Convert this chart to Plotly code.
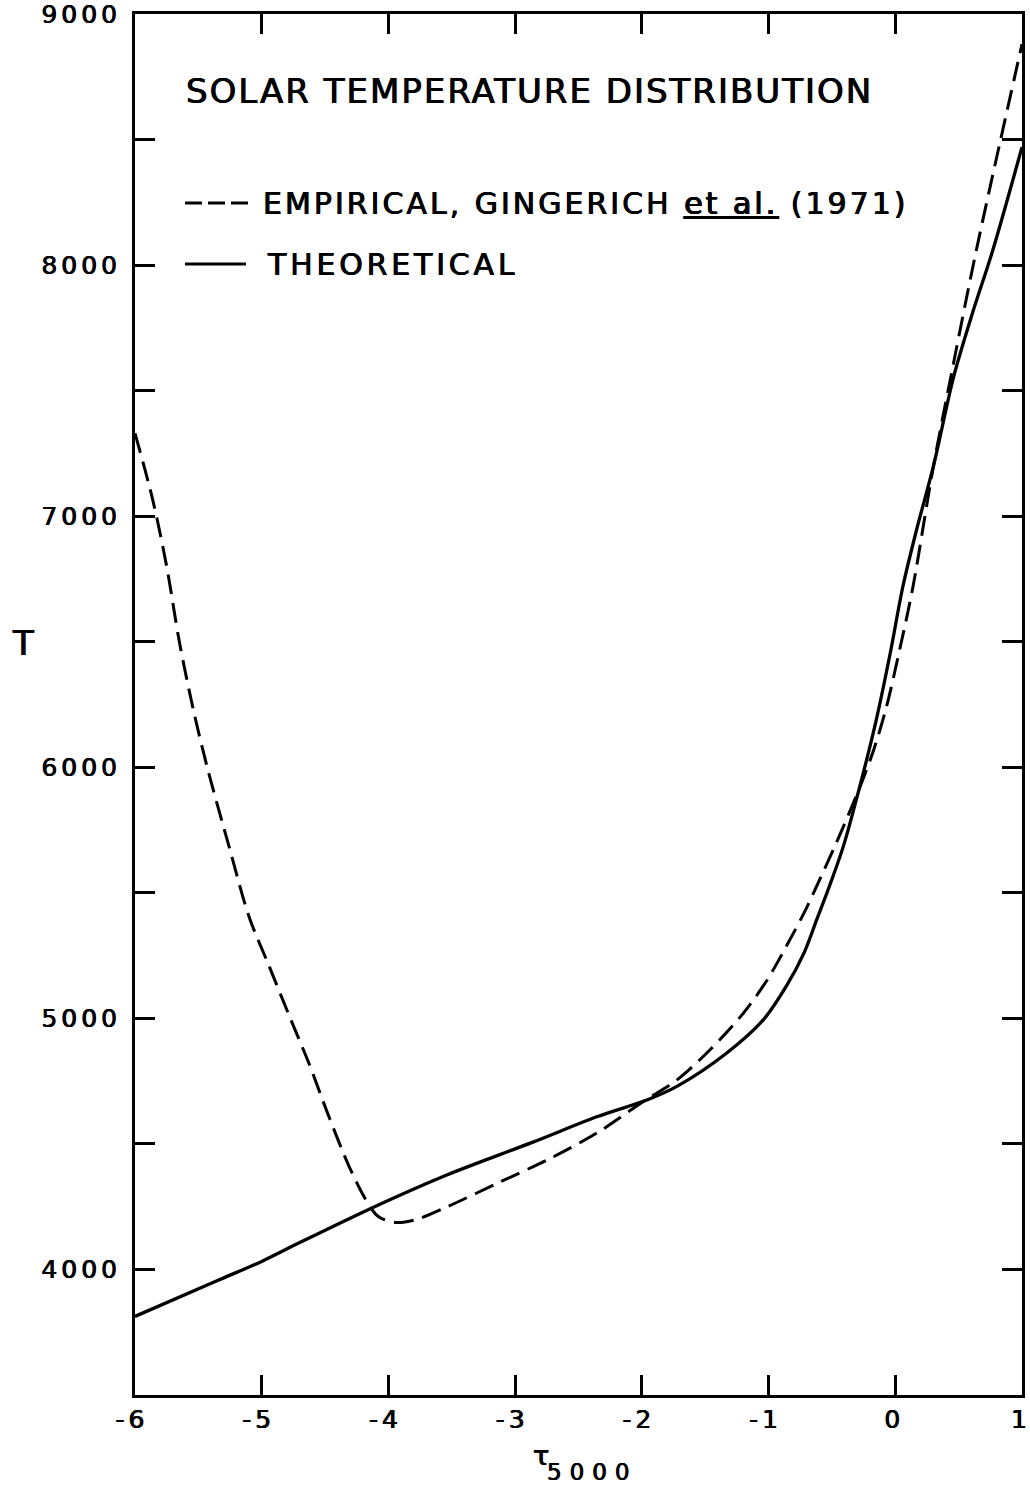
import plotly.graph_objects as go

# Optical depth (log tau_5000) and temperature samples for each model
emp_tau = [-6.0, -5.86, -5.75, -5.65, -5.54, -5.43, -5.25, -5.10, -4.94, -4.78,
           -4.63, -4.47, -4.31, -4.18, -4.08, -3.94, -3.78, -3.53, -3.13, -2.74,
           -2.35, -2.0, -1.72, -1.46, -1.20, -1.01, -0.86, -0.72, -0.59, -0.46,
           -0.28, -0.17, -0.07, 0.04, 0.14, 0.30, 0.46, 0.64, 1.0]
emp_T = [7330, 7065, 6800, 6500, 6230, 6000, 5670, 5405, 5206, 5007,
         4824, 4609, 4410, 4279, 4211, 4187, 4199, 4251, 4346, 4438,
         4545, 4665, 4756, 4876, 5020, 5154, 5287, 5420, 5560, 5705,
         5920, 6070, 6240, 6481, 6720, 7196, 7610, 8060, 8880]

theo_tau = [-6.0, -5.33, -5.0, -4.70, -4.13, -3.53, -2.87, -2.35, -1.95, -1.72,
            -1.33, -1.04, -0.86, -0.72, -0.62, -0.52, -0.41, -0.28, -0.15, -0.04,
            0.06, 0.17, 0.30, 0.46, 0.61, 0.77, 1.0]
theo_T = [3813, 3960, 4032, 4107, 4245, 4378, 4505, 4609, 4677, 4730,
          4862, 4995, 5128, 5261, 5393, 5526, 5685, 5924, 6189, 6454,
          6720, 6950, 7197, 7554, 7810, 8060, 8470]

x_ticks = [-6, -5, -4, -3, -2, -1, 0, 1]
x_labels = ["-6", "-5", "-4", "-3", "-2", "-1", "0", "1"]
y_ticks = [3500, 4000, 4500, 5000, 5500, 6000, 6500, 7000, 7500, 8000, 8500, 9000]
y_labels = ["", "4000", "", "5000", "", "6000", "", "7000", "", "8000", "", "9000"]

FONT = "DejaVu Sans"
INK = "0.45px 0 0 black, -0.45px 0 0 black"  # slightly heavier lettering


def spaced(s, px):
    return f'<span style="letter-spacing:{px}px">{s}</span>'


fig = go.Figure()
fig.add_trace(go.Scatter(
    x=emp_tau, y=emp_T, mode="lines",
    line=dict(color="black", width=3, dash="20px,9px", shape="spline", smoothing=0.9),
    showlegend=False, hoverinfo="skip"))
fig.add_trace(go.Scatter(
    x=theo_tau, y=theo_T, mode="lines",
    line=dict(color="black", width=3.3, shape="spline", smoothing=0.9),
    showlegend=False, hoverinfo="skip"))

W, H = 1030, 1486
L, R, T, B = 135, 8, 14, 91
pw, ph = W - L - R, H - T - B


def px(xp):
    return (xp - L) / pw


def py(yp):
    return (H - B - yp) / ph


axis_common = dict(
    showline=True, linewidth=3, linecolor="black", mirror="ticks",
    ticks="inside", ticklen=20, tickwidth=3, tickcolor="black",
    showgrid=False, zeroline=False, ticklabeloverflow="allow", automargin=False,
    tickfont=dict(family=FONT, size=25, color="black", shadow=INK),
)

fig.update_layout(
    width=W, height=H,
    margin=dict(l=L, r=R, t=T, b=B, autoexpand=False),
    paper_bgcolor="white", plot_bgcolor="white",
    xaxis=dict(range=[-6, 1], tickvals=x_ticks,
               ticktext=[spaced(t, 4) if len(t) > 1 else t for t in x_labels],
               ticklabelshift=-3, **axis_common),
    yaxis=dict(range=[3500, 9000], tickvals=y_ticks,
               ticktext=[spaced(t, 4) if t else "" for t in y_labels],
               ticklabelstandoff=6, **axis_common),
    font=dict(family=FONT, color="black"),
)

annotations = [
    dict(x=px(184), y=py(91), text=spaced("SOLAR TEMPERATURE DISTRIBUTION", 2.0),
         font=dict(size=34)),
    dict(x=px(261), y=py(203),
         text=spaced("EMPIRICAL, GINGERICH <u>et al.</u> (1971)", 3.0),
         font=dict(size=30)),
    dict(x=px(265), y=py(264), text=spaced("THEORETICAL", 3.8), font=dict(size=30)),
    dict(x=px(10), y=py(643), text="T", font=dict(size=34)),
    dict(x=px(531), y=py(1455), text="τ", font=dict(size=27)),
    dict(x=px(545), y=py(1472), text=spaced("5000", 8), font=dict(size=23)),
]
for a in annotations:
    a.update(xref="paper", yref="paper", xanchor="left", yanchor="middle",
             showarrow=False)
    a["font"].update(family=FONT, color="black", shadow=INK)
fig.update_layout(annotations=annotations)

# Line samples for the key
fig.add_shape(type="line", xref="paper", yref="paper",
              x0=px(185), x1=px(248), y0=py(203), y1=py(203),
              line=dict(color="black", width=3, dash="17px,6px"))
fig.add_shape(type="line", xref="paper", yref="paper",
              x0=px(185), x1=px(246), y0=py(264), y1=py(264),
              line=dict(color="black", width=3))

fig.write_html("out.html")
